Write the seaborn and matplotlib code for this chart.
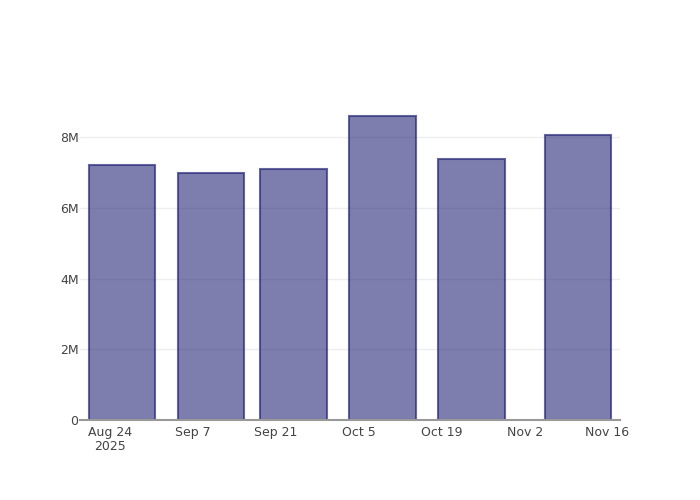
import matplotlib
matplotlib.use("Agg")
import matplotlib.pyplot as plt
import matplotlib.dates as mdates
from matplotlib.ticker import FixedLocator, FixedFormatter
import seaborn as sns
import pandas as pd

# Data
dates = ["2025-08-26", "2025-09-10", "2025-09-24", "2025-10-09", "2025-10-24", "2025-11-11"]
values = [7.21e6, 6.98e6, 7.12e6, 8.61e6, 7.38e6, 8.07e6]
tick_dates = ["2025-08-24", "2025-09-07", "2025-09-21", "2025-10-05", "2025-10-19", "2025-11-02", "2025-11-16"]
tick_labels = ["Aug 24\n2025", "Sep 7", "Sep 21", "Oct 5", "Oct 19", "Nov 2", "Nov 16"]
y_ticks = [0, 2e6, 4e6, 6e6, 8e6]
y_labels = ["0", "2M", "4M", "6M", "8M"]

sns.set_style("white")
plt.rcParams['font.family'] = ['DejaVu Sans']

xnum = [mdates.date2num(pd.Timestamp(d)) for d in dates]
df = pd.DataFrame({"x": xnum, "y": values})

fig = plt.figure(figsize=(7, 5), dpi=100)
ax = fig.add_axes([80/700, 80/500, 540/700, 320/500])

fill = (40/255, 40/255, 120/255, 0.6)
edge = (40/255, 40/255, 120/255, 0.7)
sns.barplot(data=df, x="x", y="y", native_scale=True, width=0.8,
            color=fill[:3], saturation=1, ax=ax, zorder=3,
            edgecolor=edge, linewidth=1.5)
for p in ax.patches:
    p.set_facecolor(fill)
    p.set_edgecolor(edge)

t0 = mdates.date2num(pd.Timestamp("2025-08-24"))
ax.set_xlim(t0 - 5.07, t0 + 86.1)
ax.set_ylim(0, 9.06e6)

tnum = [mdates.date2num(pd.Timestamp(d)) for d in tick_dates]
ax.xaxis.set_major_locator(FixedLocator(tnum))
ax.xaxis.set_major_formatter(FixedFormatter(tick_labels))
ax.yaxis.set_major_locator(FixedLocator(y_ticks))
ax.yaxis.set_major_formatter(FixedFormatter(y_labels))
for lbl in ax.get_xticklabels():
    lbl.set_linespacing(1.1)

for y in y_ticks[1:]:
    ax.axhline(y, color="#eeeeee", lw=1, zorder=1)

ax.tick_params(axis="both", length=0, labelsize=9, labelcolor="#444444")
ax.tick_params(axis="x", pad=4)
ax.tick_params(axis="y", pad=1)
for s in ["top", "right", "left"]:
    ax.spines[s].set_visible(False)
ax.spines["bottom"].set_color("#999999")
ax.spines["bottom"].set_linewidth(1.5)
ax.spines["bottom"].set_zorder(4)
ax.set_xlabel("")
ax.set_ylabel("")
ax.grid(False)

fig.savefig("out.png", dpi=100)
